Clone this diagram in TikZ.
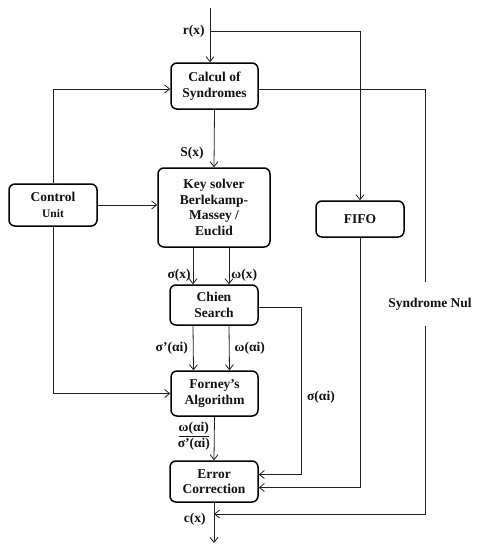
\documentclass[tikz,border=0pt]{standalone}
\usepackage{fontspec}
\setmainfont{Liberation Serif}
\usetikzlibrary{arrows.meta,positioning,calc}
\definecolor{cLine}{HTML}{202020}
\definecolor{cText}{HTML}{101018}
\tikzset{
  blk/.style={draw=black, line width=1.5pt, rounded corners=6pt, align=center,
    font=\fontsize{13.5}{15.5}\selectfont\bfseries, text=cText, inner sep=2pt},
  lbl/.style={font=\fontsize{13.5}{15.5}\selectfont\bfseries, text=cText, inner sep=2pt},
  flow/.style={-{Straight Barb[length=5pt,width=8pt]}, line width=0.8pt, draw=cLine},
  wire/.style={line width=0.8pt, draw=cLine},
}
\begin{document}
\begin{tikzpicture}[x=1pt, y=-1pt]
    \useasboundingbox (0,0) rectangle (479,550);
    % --- blocks, explicit coordinates ---
    \node[blk, minimum width=87pt, minimum height=46pt] (calc)   at (214.5,86)  {Calcul of\\Syndromes};
    \node[blk, minimum width=112pt, minimum height=79pt] (key)   at (214,207.5) {Key solver\\Berlekamp-\\Massey /\\Euclid};
    \node[blk, minimum width=88pt, minimum height=42pt] (ctrl)   at (53,205)    {Control\\{\fontsize{11.5}{13}\selectfont Unit}};
    \node[blk, minimum width=88pt, minimum height=36pt] (fifo)   at (360,219)   {FIFO};
    \node[blk, minimum width=88pt, minimum height=40pt] (chien)  at (214,305)   {Chien\\Search};
    \node[blk, minimum width=87pt, minimum height=45pt] (forney) at (214.5,393.5) {Forney's\\Algorithm};
    \node[blk, minimum width=88pt, minimum height=41pt] (err)    at (214,481.5) {Error\\Correction};
    \node[lbl, minimum height=44pt] (nul) at (430,304) {Syndrome Nul};
    % --- free ends ---
    \coordinate (in)  at (210,8);
    \coordinate (tap) at (210,31);
    \coordinate (ret) at (214,514);
    \coordinate (out) at (214,543);
    % --- input and FIFO branch ---
    \draw[flow] (in) -- node[lbl, pos=0.42, left=3pt] (rlbl) {r(x)} (in |- calc.north);
    \draw[flow] (tap) -| (fifo.north);
    % --- control unit ---
    \draw[flow] (ctrl.north) |- ([yshift=-3pt]calc.west);
    \draw[flow] (ctrl.east) -- (ctrl.east -| key.west);
    \draw[flow] (ctrl.south) |- (forney.west);
    % --- main chain ---
    \draw[flow] (calc.south) -- node[lbl, pos=0.75, left=8pt] (slbl) {S(x)} (key.north);
    \draw[flow] ([xshift=-21pt]key.south) -- node[lbl, pos=0.75, left] (sig) {σ(x)} ([xshift=-21pt]chien.north);
    \draw[flow] ([xshift=15pt]key.south) -- node[lbl, pos=0.75, right] (om) {ω(x)} ([xshift=15pt]chien.north);
    \draw[flow] ([xshift=-21pt]chien.south) -- node[lbl, pos=0.5, left=3pt] (sigd) {σ’(αi)} ([xshift=-21pt]forney.north);
    \draw[flow] ([xshift=15pt]chien.south) -- node[lbl, pos=0.5, right=3pt] (oma) {ω(αi)} ([xshift=15pt]forney.north);
    \draw[flow] (forney.south) -- node[lbl, pos=0.45, left=2pt, align=center] (frac) {\underline{ω(αi)}\\σ’(αi)} (err.north);
    \draw[flow] (err.south) -- node[lbl, pos=0.4, left=6pt] (clbl) {c(x)} (out);
    % --- side returns into error correction ---
    \draw[flow] ([yshift=-2pt]chien.east) -- ++(43,0) |- node[lbl, pos=0.27, right=3pt] (sai) {σ(αi)} ([yshift=7pt]err.east);
    \draw[flow] (fifo.south) |- ([yshift=-6pt]err.east);
    % --- syndrome nul bypass ---
    \draw[wire] ([yshift=-3pt]calc.east) -| ([xshift=-5pt]nul.north);
    \draw[flow] ([xshift=-5pt]nul.south) |- (ret);
  \end{tikzpicture}
\end{document}
